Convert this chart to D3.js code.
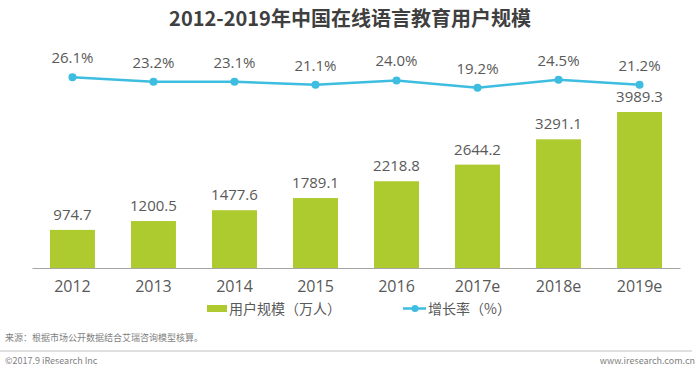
<!DOCTYPE html>
<html>
<head>
<meta charset="utf-8">
<script src="https://cdn.jsdelivr.net/npm/d3@7"></script>
<style>
  html, body { margin: 0; padding: 0; background: #fff; }
  svg { display: block; font-family: "Noto Sans CJK SC", "Open Sans", sans-serif; }
</style>
</head>
<body>
<div id="chart"></div>
<script>
// Categories and series.
const years = ['2012', '2013', '2014', '2015', '2016', '2017e', '2018e', '2019e'];
const users = [974.7, 1200.5, 1477.6, 1789.1, 2218.8, 2644.2, 3291.1, 3989.3];
const growth = [26.1, 23.2, 23.1, 21.1, 24.0, 19.2, 24.5, 21.2];

const width = 700, height = 370;
const barColor = '#adca2e';
const lineColor = '#3dbde0';
const textColor = '#595959';

const svg = d3.select('#chart').append('svg')
  .attr('width', width).attr('height', height);

// Title
svg.append('text')
  .attr('x', 350).attr('y', 26)
  .attr('text-anchor', 'middle')
  .attr('font-size', 20).attr('font-weight', 'bold')
  .attr('fill', '#3f3f3f')
  .text('2012-2019年中国在线语言教育用户规模');

const x = d3.scaleBand().domain(years).range([32, 680]).paddingInner(0.445).paddingOuter(0.222);
const yBar = d3.scaleLinear().domain([0, 4000]).range([268, 111.6]);
const yRate = d3.scaleLinear().domain([0, 30]).range([116.6, 71.4]);

// Bars
svg.selectAll('rect.bar').data(years).join('rect')
  .attr('class', 'bar')
  .attr('x', d => x(d))
  .attr('width', x.bandwidth())
  .attr('y', (d, i) => yBar(users[i]))
  .attr('height', (d, i) => yBar(0) - yBar(users[i]))
  .attr('fill', barColor);

svg.selectAll('text.bar-label').data(years).join('text')
  .attr('class', 'bar-label')
  .attr('x', d => x(d) + x.bandwidth() / 2)
  .attr('y', (d, i) => yBar(users[i]) - 10)
  .attr('text-anchor', 'middle')
  .attr('font-size', 15).attr('fill', textColor)
  .attr('font-family', '"Open Sans", sans-serif')
  .text((d, i) => users[i].toFixed(1));

// X axis
const xAxis = svg.append('g')
  .attr('transform', 'translate(0,268)')
  .call(d3.axisBottom(x).tickSize(0).tickPadding(13));
xAxis.select('.domain').attr('stroke', '#a6a6a6').attr('stroke-width', 1);
xAxis.selectAll('text')
  .attr('font-size', 16).attr('fill', textColor)
  .attr('font-family', '"Open Sans", sans-serif');

// Growth line
const line = d3.line()
  .x((d, i) => x(years[i]) + x.bandwidth() / 2)
  .y(d => yRate(d));

svg.append('path').datum(growth)
  .attr('d', line)
  .attr('fill', 'none')
  .attr('stroke', lineColor)
  .attr('stroke-width', 2.5);

svg.selectAll('circle.pt').data(growth).join('circle')
  .attr('class', 'pt')
  .attr('cx', (d, i) => x(years[i]) + x.bandwidth() / 2)
  .attr('cy', d => yRate(d))
  .attr('r', 4)
  .attr('fill', lineColor);

svg.selectAll('text.rate-label').data(growth).join('text')
  .attr('class', 'rate-label')
  .attr('x', (d, i) => x(years[i]) + x.bandwidth() / 2)
  .attr('y', d => yRate(d) - 14)
  .attr('text-anchor', 'middle')
  .attr('font-size', 15).attr('fill', textColor)
  .attr('font-family', '"Open Sans", sans-serif')
  .text(d => d.toFixed(1) + '%');

// Legend
const legend = svg.append('g');
legend.append('rect')
  .attr('x', 207).attr('y', 305).attr('width', 20).attr('height', 7)
  .attr('fill', barColor);
legend.append('text')
  .attr('x', 229).attr('y', 314)
  .attr('font-size', 14).attr('fill', textColor)
  .text('用户规模（万人）');
legend.append('line')
  .attr('x1', 403).attr('x2', 426).attr('y1', 308.5).attr('y2', 308.5)
  .attr('stroke', lineColor).attr('stroke-width', 2.5);
legend.append('circle')
  .attr('cx', 415).attr('cy', 308.5).attr('r', 3.5).attr('fill', lineColor);
legend.append('text')
  .attr('x', 428).attr('y', 314)
  .attr('font-size', 14).attr('fill', textColor)
  .text('增长率（%）');

// Footer
svg.append('text')
  .attr('x', 5).attr('y', 341)
  .attr('font-size', 9).attr('fill', '#7f7f7f')
  .text('来源：根据市场公开数据结合艾瑞咨询模型核算。');
svg.append('line')
  .attr('x1', 0).attr('x2', 692).attr('y1', 351).attr('y2', 351)
  .attr('stroke', '#bfbfbf').attr('stroke-width', 1);
svg.append('text')
  .attr('x', 5).attr('y', 364)
  .attr('font-size', 9).attr('fill', '#7f7f7f')
  .text('©2017.9 iResearch Inc');
svg.append('text')
  .attr('x', 695).attr('y', 364)
  .attr('text-anchor', 'end')
  .attr('font-size', 9).attr('fill', '#7f7f7f')
  .text('www.iresearch.com.cn');
</script>
</body>
</html>
